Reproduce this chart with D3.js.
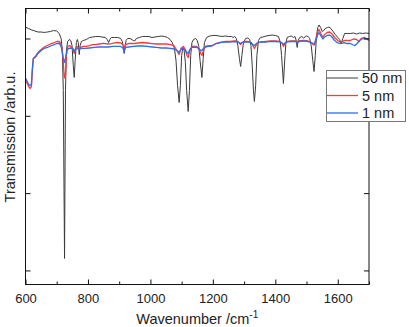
<!DOCTYPE html>
<html><head><meta charset="utf-8">
<script src="https://cdn.jsdelivr.net/npm/d3@7"></script>
<style>body{margin:0;background:#fff}svg{display:block}text{font-family:"Liberation Sans",Arial,sans-serif;fill:#222}</style>
</head><body><svg id="c" width="409" height="327"></svg>
<script>
const seriesNames = ["50 nm", "5 nm", "1 nm"];
const seriesColors = ["#3a3a3a", "#f43c3c", "#2f6de6"];
const xTicks = [600, 800, 1000, 1200, 1400, 1600];
const xMinorTicks = [700, 900, 1100, 1300, 1500, 1700];
const yTicks = [10, 20, 30, 40];

const wn50 = [600,610,620,630,640,650,660,670,680,690,700,708,714,718,721,725,728,731,735,740,745,749,753,756,759,763,766,769,772,775,779,785,795,805,815,825,835,845,855,862,866,870,875,885,895,905,910,913,916,919,922,927,935,945,950,955,965,975,985,995,1005,1015,1025,1035,1045,1055,1063,1070,1077,1082,1087,1092,1096,1100,1104,1108,1112,1116,1121,1125,1129,1133,1138,1145,1150,1155,1159,1165,1169,1173,1180,1190,1200,1210,1220,1230,1240,1250,1260,1265,1270,1275,1280,1285,1289,1293,1298,1305,1312,1318,1322,1326,1330,1333,1337,1341,1346,1352,1360,1370,1380,1390,1400,1410,1416,1420,1426,1431,1434,1438,1445,1452,1458,1463,1467,1470,1473,1478,1485,1490,1495,1500,1505,1510,1515,1520,1524,1528,1532,1536,1540,1545,1550,1555,1560,1567,1572,1578,1585,1592,1600,1606,1611,1616,1622,1630,1640,1650,1660,1670,1680,1690,1700];
const t50 = [41.46,41.29,41.10,40.97,40.84,40.84,40.78,40.84,40.91,41.03,40.97,40.65,40.00,38.45,33.28,11.55,33.28,38.45,39.61,39.87,39.74,39.09,36.51,34.96,37.16,39.48,39.87,39.48,37.93,39.09,39.61,39.74,39.87,40.13,40.19,40.26,40.26,40.19,40.13,39.87,39.48,39.87,40.13,40.13,40.13,40.00,39.61,38.97,38.06,38.97,39.74,40.00,40.00,39.74,39.68,40.00,40.13,40.26,40.26,40.26,40.13,40.19,40.26,40.32,40.26,40.13,39.87,39.48,38.71,37.16,33.92,31.72,33.92,37.80,38.84,38.45,36.90,33.28,30.56,33.28,37.80,39.48,39.87,40.00,39.74,38.97,37.16,34.96,37.41,39.48,40.13,40.32,40.39,40.39,40.32,40.26,40.32,40.26,40.26,40.13,40.26,40.00,39.09,37.41,36.38,37.80,39.48,40.00,40.06,39.87,39.09,36.51,33.28,31.85,33.92,37.80,39.74,40.13,40.19,40.32,40.39,40.45,40.39,40.26,39.48,37.80,34.18,37.80,39.48,40.13,40.26,40.32,40.13,40.26,39.74,38.84,39.74,40.13,40.26,40.06,40.19,40.32,40.26,40.00,39.09,37.16,35.73,37.80,40.39,41.42,41.75,41.42,40.91,41.03,41.29,41.42,41.49,41.29,40.91,40.52,40.13,39.87,39.35,40.00,40.65,40.65,40.65,40.71,40.58,40.71,40.65,40.71,40.65];

const wn5 = [600,604,610,615,619,622,625,631,640,650,660,670,680,690,700,708,713,717,720,724,727,729,731,735,742,748,752,756,760,765,772,777,785,795,805,815,825,835,845,855,865,875,885,895,905,912,916,920,930,945,960,975,990,1005,1020,1035,1050,1065,1075,1085,1092,1098,1105,1112,1117,1121,1126,1133,1140,1148,1155,1161,1165,1170,1176,1185,1197,1210,1223,1240,1255,1270,1280,1286,1289,1293,1300,1313,1322,1328,1333,1338,1345,1355,1370,1385,1400,1415,1422,1426,1431,1438,1450,1465,1470,1475,1490,1505,1515,1521,1525,1530,1535,1540,1546,1552,1558,1566,1574,1580,1590,1600,1610,1620,1630,1640,1650,1660,1668,1675,1685,1695,1700];
const t5 = [34.83,34.31,33.79,33.53,33.79,35.86,37.41,37.67,38.19,38.58,38.90,39.09,39.29,39.42,39.61,39.61,39.35,38.71,37.41,35.09,34.83,36.12,37.80,38.97,39.09,38.90,38.58,38.06,38.71,38.97,38.58,38.84,38.97,38.97,39.09,39.22,39.22,39.29,39.35,39.35,39.29,39.35,39.42,39.48,39.42,39.22,38.71,39.22,39.35,39.35,39.42,39.48,39.42,39.35,39.29,39.29,39.29,39.22,39.09,38.45,37.93,38.71,38.97,38.58,37.80,37.54,38.45,38.97,38.97,38.97,38.71,38.06,37.80,38.45,38.97,39.09,39.09,39.35,39.48,39.61,39.61,39.68,39.61,39.35,39.22,39.48,39.61,39.61,39.48,39.09,38.71,39.09,39.48,39.55,39.61,39.68,39.68,39.61,39.35,38.97,39.35,39.61,39.68,39.68,39.48,39.68,39.74,39.68,39.48,39.22,39.16,40.00,40.78,41.16,40.65,40.19,40.52,40.78,40.84,40.65,40.13,39.74,39.48,39.74,39.74,39.74,39.94,39.87,39.61,40.00,40.13,39.87,39.74];

const wn1 = [600,604,610,615,619,622,625,631,640,650,660,670,680,690,700,708,713,717,721,725,729,733,738,745,752,756,760,766,772,778,790,805,820,835,850,865,880,895,905,912,916,920,930,945,960,975,990,1005,1020,1035,1050,1065,1075,1085,1092,1098,1105,1112,1117,1121,1126,1133,1140,1148,1155,1161,1165,1170,1176,1185,1197,1210,1223,1240,1255,1270,1280,1286,1289,1293,1300,1313,1322,1328,1333,1338,1345,1355,1370,1385,1400,1415,1422,1426,1431,1438,1450,1465,1470,1475,1490,1505,1515,1521,1525,1530,1535,1540,1546,1552,1558,1566,1574,1580,1590,1600,1610,1620,1630,1640,1650,1655,1662,1670,1680,1690,1700];
const t1 = [34.83,34.57,34.05,33.92,34.18,36.12,37.41,37.54,38.06,38.45,38.71,38.84,39.03,39.16,39.35,39.35,39.09,38.45,37.41,36.90,37.67,38.45,38.71,38.77,38.71,38.32,38.58,38.71,38.58,38.71,38.71,38.77,38.84,38.90,38.90,38.90,38.97,38.97,38.97,38.77,38.32,38.84,38.90,38.97,39.03,39.03,38.97,38.90,38.84,38.77,38.77,38.71,38.64,38.45,38.19,38.64,38.71,38.45,38.19,38.06,38.58,38.84,38.90,38.84,38.71,38.45,38.45,38.71,38.90,38.97,39.03,39.35,39.48,39.55,39.55,39.61,39.55,39.42,39.35,39.48,39.55,39.55,39.48,39.22,39.09,39.29,39.48,39.55,39.55,39.61,39.61,39.55,39.42,39.22,39.42,39.55,39.61,39.61,39.42,39.61,39.68,39.61,39.48,39.35,39.29,39.74,40.39,40.78,40.32,39.94,40.19,40.39,40.45,40.26,39.74,39.42,39.35,39.48,39.35,39.35,39.16,39.09,39.35,39.74,40.00,40.00,39.94];

const svg = d3.select("#c");
const m = {l:25.5, r:369, t:8.5, b:284.5};
const x = d3.scaleLinear().domain([600,1700]).range([m.l, m.r]);
const y = d3.scaleLinear().domain([8.18, 43.88]).range([m.b, m.t]);

const plot = svg.append("g");
const series = [[wn50,t50],[wn5,t5],[wn1,t1]];
const lineGen = d3.line().x(d=>x(d[0])).y(d=>y(d[1]));
const widths = [1.0, 1.3, 1.3];
[0,1,2].forEach(i=>{
  const pts = series[i][0].map((w,k)=>[w, series[i][1][k]]);
  plot.append("path").datum(pts).attr("d", lineGen).attr("fill","none")
   .attr("stroke", seriesColors[i]).attr("stroke-width", widths[i]).attr("stroke-linejoin","round");
});

// frame
svg.append("rect").attr("x",m.l).attr("y",m.t).attr("width",m.r-m.l).attr("height",m.b-m.t)
  .attr("fill","none").attr("stroke","#111").attr("stroke-width",1);

// axes with inward ticks
const axB = svg.append("g").attr("transform",`translate(0,${m.b})`)
  .call(d3.axisBottom(x).tickValues(xTicks).tickSize(-5).tickPadding(9).tickFormat(d3.format("d")));
svg.append("g").attr("transform",`translate(0,${m.b})`)
  .call(d3.axisBottom(x).tickValues(xMinorTicks).tickSize(-3).tickFormat(""));
svg.append("g").attr("transform",`translate(0,${m.t})`)
  .call(d3.axisTop(x).tickValues(xTicks).tickSize(-5).tickFormat(""));
svg.append("g").attr("transform",`translate(0,${m.t})`)
  .call(d3.axisTop(x).tickValues(xMinorTicks).tickSize(-3).tickFormat(""));
svg.append("g").attr("transform",`translate(${m.l},0)`)
  .call(d3.axisLeft(y).tickValues(yTicks).tickSize(-5).tickFormat(""));
svg.append("g").attr("transform",`translate(${m.r},0)`)
  .call(d3.axisRight(y).tickValues(yTicks).tickSize(-5).tickFormat(""));
svg.selectAll(".domain").remove();
svg.selectAll(".tick line").attr("stroke","#111");
axB.selectAll("text").attr("font-size",13).style("font-family","Liberation Sans, Arial, sans-serif").attr("fill","#222");

// titles
const xt = svg.append("text").attr("x",(m.l+m.r)/2).attr("y",324).attr("text-anchor","middle").attr("font-size",14.5);
xt.append("tspan").text("Wavenumber /cm");
xt.append("tspan").attr("dy",-6).attr("font-size",10).text("-1");
svg.append("text").attr("transform",`translate(15,137) rotate(-90)`).attr("text-anchor","middle")
  .attr("font-size",14.5).text("Transmission /arb.u.");

// legend
const lg = svg.append("g");
lg.append("rect").attr("x",326.5).attr("y",70.5).attr("width",79).attr("height",51)
  .attr("fill","#fff").attr("stroke","#777").attr("stroke-width",1);
seriesNames.forEach((n,i)=>{
  const yy = 78 + i*17.5;
  lg.append("line").attr("x1",327).attr("x2",358).attr("y1",yy).attr("y2",yy).attr("stroke",seriesColors[i]).attr("stroke-width",widths[i]);
  lg.append("text").attr("x",362).attr("y",yy+5).attr("font-size",14.5).text(n);
});
</script></body></html>
